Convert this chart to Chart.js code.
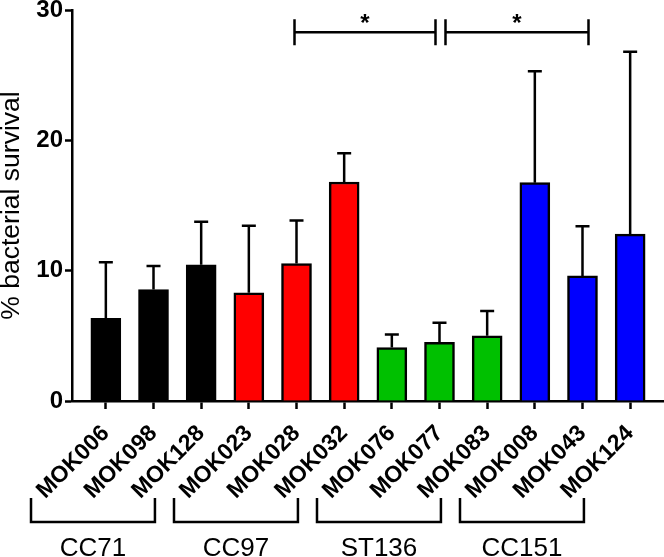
<!DOCTYPE html>
<html>
<head>
<meta charset="utf-8">
<script src="https://cdn.jsdelivr.net/npm/chart.js@4"></script>
<style>
  html, body { margin: 0; padding: 0; background: #fff; }
</style>
</head>
<body>
<canvas id="chart" width="664" height="557"></canvas>
<script>
// strains, grouped by clonal complex
const strains = ['MOK006', 'MOK098', 'MOK128', 'MOK023', 'MOK028', 'MOK032',
                 'MOK076', 'MOK077', 'MOK083', 'MOK008', 'MOK043', 'MOK124'];
const survival = [6.35, 8.55, 10.45, 8.3, 10.55, 16.8, 4.1, 4.5, 5.0, 16.75, 9.6, 12.8];
const sd = [4.3, 1.8, 3.3, 5.15, 3.3, 2.2, 1.0, 1.5, 1.9, 8.55, 3.8, 14.0];
const groupNames = ['CC71', 'CC97', 'ST136', 'CC151'];
const groupSizes = [3, 3, 3, 3];
const groupColors = ['#000000', '#ff0000', '#00c000', '#0000ff'];
const yTicks = [0, 10, 20, 30];
const sigPairs = [[4, 7], [7, 10]];

const FONT = '"Liberation Sans", Arial, sans-serif';

const barColors = [];
groupSizes.forEach((n, g) => { for (let k = 0; k < n; k++) barColors.push(groupColors[g]); });

const errorBars = {
  id: 'errorBars',
  afterDatasetsDraw(chart) {
    const { ctx, scales: { x, y } } = chart;
    ctx.save();
    ctx.strokeStyle = '#000';
    ctx.lineWidth = 2.5;
    survival.forEach((v, i) => {
      const px = x.getPixelForValue(i);
      const top = y.getPixelForValue(v + sd[i]);
      ctx.beginPath();
      ctx.moveTo(px, y.getPixelForValue(v));
      ctx.lineTo(px, top);
      ctx.moveTo(px - 7, top);
      ctx.lineTo(px + 7, top);
      ctx.stroke();
    });
    ctx.restore();
  }
};

const brackets = {
  id: 'brackets',
  afterDraw(chart) {
    const { ctx, scales: { x, y } } = chart;
    ctx.save();
    ctx.strokeStyle = '#000';
    ctx.fillStyle = '#000';
    ctx.lineWidth = 2.5;

    // group brackets under the rotated labels
    let start = 0;
    groupSizes.forEach((n, g) => {
      const end = start + n - 1;
      const x1 = x.getPixelForValue(start - 1.57);
      const x2 = x.getPixelForValue(end - 0.97);
      const y1 = x.top + 97, y2 = x.top + 121;
      ctx.beginPath();
      ctx.moveTo(x1, y1);
      ctx.lineTo(x1, y2);
      ctx.lineTo(x2, y2);
      ctx.lineTo(x2, y1);
      ctx.stroke();
      ctx.font = '26px ' + FONT;
      ctx.textAlign = 'center';
      ctx.textBaseline = 'alphabetic';
      ctx.fillText(groupNames[g], (x1 + x2) / 2, x.top + 155);
      start += n;
    });

    // significance bars
    const sy = y.getPixelForValue(28.3);
    sigPairs.forEach(([a, b], k) => {
      const x1 = x.getPixelForValue(a) + (k === 0 ? -2 : 6);
      const x2 = x.getPixelForValue(b) + (k === 0 ? -4 : 6);
      ctx.beginPath();
      ctx.moveTo(x1, sy - 13); ctx.lineTo(x1, sy + 13);
      ctx.moveTo(x1, sy); ctx.lineTo(x2, sy);
      ctx.moveTo(x2, sy - 13); ctx.lineTo(x2, sy + 13);
      ctx.stroke();
      ctx.font = 'bold 24px ' + FONT;
      ctx.textAlign = 'center';
      ctx.fillText('*', (x1 + x2) / 2, sy - 1);
    });
    ctx.restore();
  }
};

new Chart(document.getElementById('chart'), {
  type: 'bar',
  data: {
    datasets: [{
      data: survival.map((v, i) => ({ x: i, y: v })),
      backgroundColor: barColors,
      borderColor: '#000',
      borderWidth: 2.5,
      barThickness: 30
    }]
  },
  options: {
    responsive: false,
    animation: false,
    devicePixelRatio: 1,
    layout: { padding: 0 },
    plugins: { legend: { display: false }, tooltip: { enabled: false } },
    scales: {
      x: {
        type: 'linear',
        min: -0.71,
        max: 11.71,
        offset: false,
        afterBuildTicks: (s) => { s.ticks = strains.map((_, i) => ({ value: i })); },
        afterFit: (s) => { s.height = 156; s.paddingLeft = 0; s.paddingRight = 0; },
        grid: { offset: false, drawOnChartArea: false, tickLength: 8, tickWidth: 2.5, tickColor: '#000' },
        border: { color: '#000', width: 2.5 },
        ticks: {
          autoSkip: false,
          maxRotation: 45,
          minRotation: 45,
          padding: 11,
          color: '#000',
          font: { family: FONT, size: 23, weight: 'bold' },
          callback: (v) => strains[v]
        }
      },
      y: {
        min: 0,
        max: 30,
        afterBuildTicks: (s) => { s.ticks = yTicks.map(v => ({ value: v })); },
        afterFit: (s) => { s.width = 72; s.paddingTop = 10; s.paddingBottom = 0; },
        grid: { drawOnChartArea: false, tickLength: 7, tickWidth: 2.5, tickColor: '#000' },
        border: { color: '#000', width: 2.5 },
        ticks: {
          padding: 2,
          color: '#000',
          font: { family: FONT, size: 24, weight: 'bold' }
        },
        title: {
          display: true,
          text: '% bacterial survival',
          color: '#000',
          padding: 0,
          font: { family: FONT, size: 26.5, lineHeight: 0.9 }
        }
      }
    }
  },
  plugins: [errorBars, brackets]
});
</script>
</body>
</html>
